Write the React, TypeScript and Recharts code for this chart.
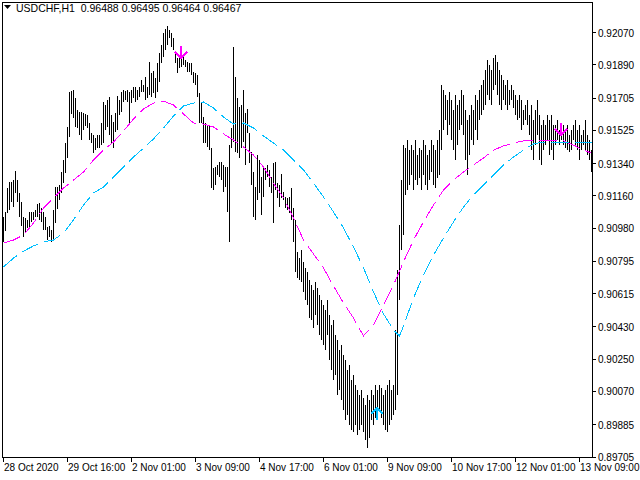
import { ComposedChart, Bar, Line, Scatter, XAxis, YAxis, ReferenceArea } from "recharts";

// USDCHF H1 bars, high / low per bar (left to right)
const barHigh = [
  0.91042, 0.91070, 0.91203, 0.91237, 0.91237, 0.91248, 0.91298, 0.91248, 0.91176, 0.91126,
  0.91042, 0.91036, 0.91026, 0.91070, 0.91070, 0.91070, 0.91081, 0.91115, 0.91120, 0.91092,
  0.91070, 0.91042, 0.90987, 0.90993, 0.90970, 0.91081, 0.91209, 0.91209, 0.91220, 0.91293,
  0.91360, 0.91454, 0.91544, 0.91739, 0.91744, 0.91750, 0.91705, 0.91638, 0.91627, 0.91627,
  0.91621, 0.91616, 0.91610, 0.91566, 0.91510, 0.91499, 0.91482, 0.91499, 0.91499, 0.91566,
  0.91683, 0.91666, 0.91694, 0.91711, 0.91610, 0.91572, 0.91621, 0.91717, 0.91694, 0.91739,
  0.91750, 0.91744, 0.91750, 0.91739, 0.91750, 0.91766, 0.91766, 0.91750, 0.91766, 0.91805,
  0.91777, 0.91822, 0.91766, 0.91906, 0.91844, 0.91855, 0.91816, 0.91900, 0.91955, 0.92000,
  0.92067, 0.92090, 0.92107, 0.92084, 0.92067, 0.92039, 0.91961, 0.91928, 0.91933, 0.91955,
  0.91933, 0.91917, 0.91906, 0.91900, 0.91900, 0.91850, 0.91844, 0.91833, 0.91733, 0.91683,
  0.91599, 0.91566, 0.91555, 0.91555, 0.91426, 0.91315, 0.91321, 0.91332, 0.91349, 0.91349,
  0.91332, 0.91321, 0.91321, 0.91443, 0.91538, 0.91989, 0.91822, 0.91705, 0.91655, 0.91666,
  0.91750, 0.91621, 0.91644, 0.91510, 0.91404, 0.91293, 0.91209, 0.91387, 0.91360, 0.91265,
  0.91321, 0.91315, 0.91332, 0.91304, 0.91265, 0.91343, 0.91349, 0.91231, 0.91220, 0.91282,
  0.91182, 0.91154, 0.91148, 0.91154, 0.91203, 0.91092, 0.91026, 0.90847, 0.90814,
  0.90858, 0.90792, 0.90758, 0.90736, 0.90691, 0.90663, 0.90636, 0.90680, 0.90646, 0.90608,
  0.90580, 0.90552, 0.90524, 0.90580, 0.90496, 0.90441, 0.90469, 0.90385, 0.90357, 0.90301,
  0.90329, 0.90273, 0.90246, 0.90190, 0.90218, 0.90134, 0.90162, 0.90106, 0.90079, 0.90051,
  0.90079, 0.90034, 0.89995, 0.90051, 0.90023, 0.90079, 0.90051, 0.90106, 0.90079, 0.90106,
  0.90090, 0.90051, 0.90079, 0.90106, 0.90134, 0.90079, 0.90106, 0.90413, 0.90747, 0.90998,
  0.91248, 0.91443, 0.91426, 0.91471, 0.91415, 0.91443, 0.91415, 0.91471, 0.91387, 0.91426,
  0.91415, 0.91471, 0.91443, 0.91387, 0.91415, 0.91471, 0.91443, 0.91415, 0.91471, 0.91527,
  0.91777, 0.91750, 0.91722, 0.91694, 0.91739, 0.91694, 0.91638, 0.91722, 0.91666, 0.91694,
  0.91750, 0.91722, 0.91638, 0.91583, 0.91610, 0.91666, 0.91638, 0.91722, 0.91694, 0.91750,
  0.91777, 0.91805, 0.91861, 0.91917, 0.91889, 0.91861, 0.91928, 0.91944, 0.91906, 0.91861,
  0.91833, 0.91805, 0.91777, 0.91805, 0.91750, 0.91777, 0.91750, 0.91722, 0.91694, 0.91722,
  0.91694, 0.91638, 0.91666, 0.91694, 0.91610, 0.91666, 0.91583, 0.91638, 0.91694, 0.91610,
  0.91555, 0.91583, 0.91555, 0.91610, 0.91583, 0.91610, 0.91555, 0.91555, 0.91583, 0.91527,
  0.91538, 0.91555, 0.91527, 0.91555, 0.91499, 0.91527, 0.91555, 0.91583, 0.91527, 0.91555,
  0.91499, 0.91527, 0.91583, 0.91499, 0.91471, 0.91415,
];

const barLow = [
  0.90903, 0.90964, 0.91064, 0.91081, 0.91126, 0.91098, 0.91176, 0.91126, 0.91042, 0.90993,
  0.90931, 0.90959, 0.90981, 0.90987, 0.91015, 0.91026, 0.91042, 0.91042, 0.91026, 0.91015,
  0.90970, 0.90970, 0.90914, 0.90931, 0.90903, 0.90914, 0.91009, 0.91087, 0.91137, 0.91176,
  0.91231, 0.91287, 0.91370, 0.91488, 0.91616, 0.91593, 0.91544, 0.91538, 0.91499, 0.91471,
  0.91527, 0.91550, 0.91538, 0.91471, 0.91454, 0.91398, 0.91415, 0.91426, 0.91426, 0.91443,
  0.91454, 0.91527, 0.91544, 0.91499, 0.91454, 0.91426, 0.91516, 0.91527, 0.91610, 0.91627,
  0.91683, 0.91694, 0.91683, 0.91566, 0.91677, 0.91705, 0.91683, 0.91694, 0.91711, 0.91739,
  0.91739, 0.91694, 0.91705, 0.91722, 0.91711, 0.91733, 0.91705, 0.91739, 0.91794, 0.91900,
  0.91933, 0.91972, 0.92000, 0.92039, 0.91989, 0.91972, 0.91900, 0.91844, 0.91872, 0.91878,
  0.91889, 0.91878, 0.91850, 0.91850, 0.91833, 0.91788, 0.91777, 0.91711, 0.91566, 0.91566,
  0.91454, 0.91454, 0.91432, 0.91415, 0.91203, 0.91193, 0.91220, 0.91276, 0.91265, 0.91248,
  0.91182, 0.91209, 0.91070, 0.90903, 0.91426, 0.91460, 0.91404, 0.91398, 0.91370, 0.91426,
  0.91460, 0.91332, 0.91510, 0.91343, 0.91220, 0.91042, 0.91026, 0.91137, 0.91176, 0.91053,
  0.91154, 0.91248, 0.91265, 0.91209, 0.91176, 0.91009, 0.91193, 0.91148, 0.91098, 0.91148,
  0.91137, 0.91092, 0.91081, 0.91064, 0.91026, 0.90903, 0.90736, 0.90703, 0.90691,
  0.90680, 0.90625, 0.90580, 0.90552, 0.90479, 0.90469, 0.90424, 0.90496, 0.90441, 0.90385,
  0.90357, 0.90329, 0.90301, 0.90385, 0.90246, 0.90190, 0.90134, 0.90162, 0.90051, 0.90079,
  0.90023, 0.89967, 0.89912, 0.89939, 0.89884, 0.89856, 0.89845, 0.89884, 0.89828, 0.89856,
  0.89884, 0.89845, 0.89800, 0.89755, 0.89811, 0.89912, 0.89884, 0.89923, 0.89912, 0.89956,
  0.89923, 0.89884, 0.89856, 0.89845, 0.89884, 0.89912, 0.89939, 0.89967, 0.90051, 0.90580,
  0.90858, 0.90942, 0.91165, 0.91193, 0.91220, 0.91276, 0.91193, 0.91248, 0.91220, 0.91259,
  0.91193, 0.91276, 0.91220, 0.91193, 0.91248, 0.91293, 0.91220, 0.91203, 0.91259, 0.91276,
  0.91415, 0.91527, 0.91583, 0.91499, 0.91555, 0.91471, 0.91415, 0.91360, 0.91443, 0.91527,
  0.91555, 0.91499, 0.91360, 0.91276, 0.91387, 0.91471, 0.91443, 0.91527, 0.91471, 0.91583,
  0.91610, 0.91638, 0.91666, 0.91722, 0.91694, 0.91666, 0.91750, 0.91777, 0.91722, 0.91666,
  0.91638, 0.91694, 0.91666, 0.91638, 0.91666, 0.91694, 0.91649, 0.91610, 0.91583, 0.91593,
  0.91527, 0.91555, 0.91583, 0.91555, 0.91499, 0.91415, 0.91360, 0.91443, 0.91499, 0.91360,
  0.91332, 0.91415, 0.91443, 0.91471, 0.91387, 0.91415, 0.91360, 0.91443, 0.91471, 0.91443,
  0.91471, 0.91443, 0.91426, 0.91415, 0.91404, 0.91415, 0.91471, 0.91443, 0.91415, 0.91360,
  0.91415, 0.91443, 0.91415, 0.91387, 0.91360, 0.91293,
];

// fast MA (magenta), read at every 5th bar
const magentaIdx = [
  0, 5, 10, 15, 20, 25, 30, 35, 40, 45, 50, 55, 60, 65, 70, 75, 80, 85, 90, 95,
  100, 105, 110, 115, 120, 125, 130, 135, 140, 145, 150, 155, 160, 165, 170, 175, 180, 185, 190, 195,
  200, 205, 210, 215, 220, 225, 230, 235, 240, 245, 250, 255, 260, 265, 270, 275, 280, 285, 290, 294,
];
const magentaVal = [
  0.90897, 0.90914, 0.90942, 0.91009, 0.91092, 0.91148, 0.91203, 0.91248, 0.91293, 0.91360,
  0.91415, 0.91460, 0.91521, 0.91588, 0.91644, 0.91677, 0.91688, 0.91666, 0.91616, 0.91566,
  0.91560, 0.91544, 0.91505, 0.91471, 0.91432, 0.91387, 0.91321, 0.91231, 0.91148, 0.91036,
  0.90914, 0.90836, 0.90758, 0.90658, 0.90563, 0.90479, 0.90380, 0.90441, 0.90552, 0.90663,
  0.90792, 0.90914, 0.91015, 0.91109, 0.91193, 0.91248, 0.91293, 0.91332, 0.91371, 0.91415,
  0.91438, 0.91454, 0.91466, 0.91471, 0.91471, 0.91471, 0.91466, 0.91443, 0.91415, 0.91398,
];

// slow MA (sky blue)
const cyanIdx = [
  0, 5, 10, 15, 20, 25, 30, 35, 40, 45, 50, 55, 60, 65, 70, 75, 80, 85, 90, 95,
  100, 105, 110, 115, 120, 125, 130, 135, 140, 145, 150, 155, 160, 165, 170, 175, 180, 185, 190, 195,
  198, 200, 205, 210, 215, 220, 225, 230, 235, 240, 245, 250, 255, 260, 265, 270, 275, 280, 285, 290, 294,
];
const cyanVal = [
  0.90764, 0.90813, 0.90852, 0.90881, 0.90903, 0.90914, 0.90953, 0.91026, 0.91109, 0.91176,
  0.91209, 0.91265, 0.91321, 0.91376, 0.91426, 0.91477, 0.91538, 0.91605, 0.91661, 0.91677,
  0.91683, 0.91649, 0.91599, 0.91560, 0.91566, 0.91538, 0.91494, 0.91454, 0.91415, 0.91360,
  0.91304, 0.91231, 0.91154, 0.91070, 0.90981, 0.90875, 0.90758, 0.90625, 0.90502, 0.90413,
  0.90380, 0.90435, 0.90591, 0.90719, 0.90830, 0.90925, 0.91015, 0.91098, 0.91165, 0.91220,
  0.91276, 0.91332, 0.91376, 0.91415, 0.91449, 0.91460, 0.91460, 0.91460, 0.91460, 0.91460, 0.91460,
];

// signal arrows
const downArrowIdx = [89, 279];
const downArrowVal = [0.91922, 0.91493];
const upArrowIdx = [187];
const upArrowVal = [0.89984];

const timeTickIdx = [0, 32, 64, 96, 128, 160, 192, 224, 256, 288];
const timeLabels = [
  "28 Oct 2020", "29 Oct 16:00", "2 Nov 01:00", "3 Nov 09:00", "4 Nov 17:00",
  "6 Nov 01:00", "9 Nov 09:00", "10 Nov 17:00", "12 Nov 01:00", "13 Nov 09:00",
];
const priceTicks = [
  0.9207, 0.9189, 0.91705, 0.91525, 0.9134, 0.9116, 0.9098, 0.90795, 0.90615, 0.9043,
  0.9025, 0.9007, 0.89885, 0.89705,
];

const FONT = "Liberation Sans";
const MAGENTA = "#ff00ff";
const SKY = "#00bfff";

const bars = barHigh.map((h, i) => ({ i, high: h, low: barLow[i] }));
const magentaData = magentaIdx.map((i, k) => ({ i, v: magentaVal[k] }));
const cyanData = cyanIdx.map((i, k) => ({ i, v: cyanVal[k] }));
const downData = downArrowIdx.map((i, k) => ({ i, v: downArrowVal[k] }));
const upData = upArrowIdx.map((i, k) => ({ i, v: upArrowVal[k] }));

const HLBar = (props: any) => {
  const { x, y, width, height } = props;
  if (x == null || y == null) return null;
  const cx = Math.floor(x + width / 2);
  const top = Math.round(Math.min(y, y + height));
  const bottom = Math.round(Math.max(y, y + height));
  return <rect x={cx} y={top} width={1} height={Math.max(1, bottom - top)} fill="#000" />;
};

const DownArrow = (props: any) => {
  const { cx, cy } = props;
  const x = Math.floor(cx);
  const y = Math.round(cy);
  return (
    <g shapeRendering="crispEdges">
      <rect x={x - 1} y={y - 13} width={2} height={12} fill={MAGENTA} />
      <polyline points={`${x - 6},${y - 7} ${x},${y - 1} ${x + 6},${y - 7}`} fill="none" stroke={MAGENTA} strokeWidth={2} />
    </g>
  );
};

const UpArrow = (props: any) => {
  const { cx, cy } = props;
  const x = Math.floor(cx);
  const y = Math.round(cy);
  return (
    <g shapeRendering="crispEdges">
      <rect x={x - 1} y={y + 1} width={2} height={12} fill={SKY} />
      <polyline points={`${x - 6},${y + 7} ${x},${y + 1} ${x + 6},${y + 7}`} fill="none" stroke={SKY} strokeWidth={2} />
    </g>
  );
};

const TimeTick = (props: any) => {
  const { x, payload } = props;
  const k = timeTickIdx.indexOf(payload.value);
  return (
    <text x={Math.floor(x) + 1} y={471} fontFamily={FONT} fontSize={10} fill="#000" textAnchor="start">
      {timeLabels[k]}
    </text>
  );
};

const PriceTick = (props: any) => {
  const { y, payload } = props;
  return (
    <text x={598} y={y + 4} fontFamily={FONT} fontSize={10} fill="#000" textAnchor="start">
      {payload.value.toFixed(5)}
    </text>
  );
};

export default function App() {
  return (
    <div style={{ position: "absolute", left: 0, top: 0, width: 640, height: 480, background: "#fff" }}>
      <ComposedChart
        width={640}
        height={480}
        data={bars}
        margin={{ top: 2, right: 0, bottom: 0, left: 2 }}
      >
        <XAxis
          type="number"
          dataKey="i"
          domain={[-0.75, 294.25]}
          allowDataOverflow
          ticks={timeTickIdx}
          interval={0}
          height={23}
          tickSize={5}
          tick={<TimeTick />}
          stroke="#000"
          shapeRendering="crispEdges"
        />
        <YAxis
          orientation="right"
          type="number"
          domain={[0.89705, 0.9224]}
          allowDataOverflow
          ticks={priceTicks}
          interval={0}
          width={48}
          tickSize={4}
          tick={<PriceTick />}
          stroke="#000"
          shapeRendering="crispEdges"
        />
        <ReferenceArea
          x1={-0.75}
          x2={294.25}
          y1={0.89705}
          y2={0.9224}
          fill="none"
          stroke="#000"
          strokeOpacity={1}
          fillOpacity={0}
          shapeRendering="crispEdges"
        />
        <Bar
          dataKey={(d: any) => [d.low, d.high]}
          barSize={1}
          shape={<HLBar />}
          isAnimationActive={false}
        />
        <Line
          data={magentaData}
          dataKey="v"
          type="linear"
          stroke={MAGENTA}
          strokeWidth={1}
          strokeDasharray="18 6"
          dot={false}
          activeDot={false}
          shapeRendering="crispEdges"
          isAnimationActive={false}
        />
        <Line
          data={cyanData}
          dataKey="v"
          type="linear"
          stroke={SKY}
          strokeWidth={1}
          strokeDasharray="18 6"
          dot={false}
          activeDot={false}
          shapeRendering="crispEdges"
          isAnimationActive={false}
        />
        <Scatter data={downData} dataKey="v" shape={<DownArrow />} isAnimationActive={false} />
        <Scatter data={upData} dataKey="v" shape={<UpArrow />} isAnimationActive={false} />
      </ComposedChart>
      <svg width={260} height={16} style={{ position: "absolute", left: 0, top: 0 }}>
        <polygon points="4,5 11,5 7.5,9" fill="#000" />
        <text x={16} y={12} fontFamily={FONT} fontSize={10.5} fill="#000" xmlSpace="preserve">
          USDCHF,H1  0.96488 0.96495 0.96464 0.96467
        </text>
      </svg>
    </div>
  );
}
